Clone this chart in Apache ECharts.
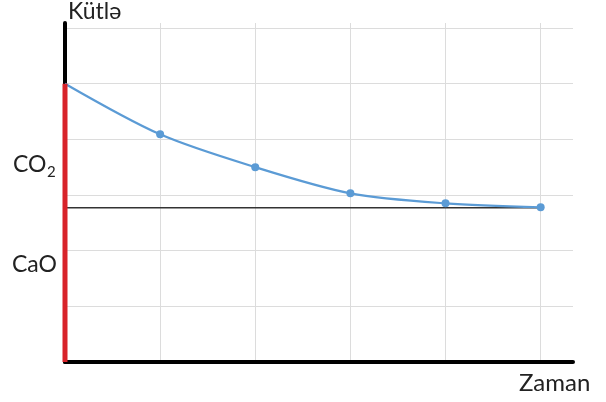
<!DOCTYPE html>
<html>
<head>
<meta charset="utf-8">
<script src="https://cdn.jsdelivr.net/npm/echarts@6/dist/echarts.min.js"></script>
<style>
  html, body { margin: 0; padding: 0; background: #fff; }
  #chart { width: 606px; height: 402px; }
</style>
</head>
<body>
<div id="chart"></div>
<script>
// Time steps (x) and remaining mass of the sample (y)
const timeSteps = [0, 1, 2, 3, 4, 5];
const massValues = [5.0, 4.09, 3.50, 3.03, 2.85, 2.78];
// Mass left once all CO2 has gone (CaO level)
const caoLevel = 2.77;
// Starting mass shown as the red bar on the vertical axis
const startMass = 5.0;

const font = 'Lato, "Open Sans", sans-serif';

const chart = echarts.init(document.getElementById('chart'), null, { renderer: 'canvas' });

const curveData = timeSteps.map((t, i) => {
  const item = { value: [t, massValues[i]] };
  if (i === 0) item.symbol = 'none';
  return item;
});

chart.setOption({
  animation: false,
  backgroundColor: '#fff',
  grid: { left: 65, right: 33, top: 23, bottom: 40 },
  xAxis: {
    type: 'value', min: 0, max: 5.34, interval: 1,
    axisLine: { show: true, lineStyle: { color: '#000', width: 4 } },
    axisTick: { show: false },
    axisLabel: { show: false },
    splitLine: { show: true, showMinLine: false, showMaxLine: false,
      lineStyle: { color: '#dcdcdc', width: 1 } }
  },
  yAxis: {
    type: 'value', min: 0, max: 6.09, interval: 1,
    axisLine: { show: true, onZero: false, lineStyle: { color: '#000', width: 4 } },
    axisTick: { show: false },
    axisLabel: { show: false },
    splitLine: { show: true, showMinLine: false, showMaxLine: false,
      lineStyle: { color: '#dcdcdc', width: 1 } }
  },
  series: [
    {
      type: 'line',
      data: [[timeSteps[0], caoLevel], [timeSteps[timeSteps.length - 1], caoLevel]],
      symbol: 'none',
      lineStyle: { color: '#333', width: 1.5 },
      z: 3
    },
    {
      type: 'line',
      data: curveData,
      smooth: 0.3,
      symbol: 'circle',
      symbolSize: 8,
      itemStyle: { color: '#5b9bd5' },
      lineStyle: { color: '#5b9bd5', width: 2.2 },
      z: 4
    },
    {
      type: 'line',
      data: [[0, 0], [0, startMass]],
      symbol: 'none',
      lineStyle: { color: '#d8232a', width: 5 },
      z: 5
    }
  ],
  graphic: [
    { type: 'text', left: 68, top: 0,
      style: { text: 'Kütlə', font: '23px ' + font, fill: '#222' } },
    { type: 'text', left: 13, top: 153,
      style: { text: 'CO', font: '23px ' + font, fill: '#222' } },
    { type: 'text', left: 47, top: 165,
      style: { text: '2', font: '15px ' + font, fill: '#222' } },
    { type: 'text', left: 12, top: 253,
      style: { text: 'CaO', font: '23px ' + font, fill: '#222' } },
    { type: 'text', left: 519, top: 371,
      style: { text: 'Zaman', font: '24px ' + font, fill: '#222' } }
  ]
});
</script>
</body>
</html>
